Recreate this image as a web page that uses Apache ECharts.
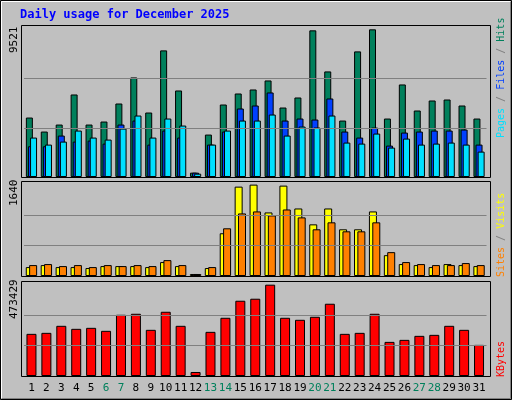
<!DOCTYPE html>
<html><head><meta charset="utf-8">
<script src="https://cdn.jsdelivr.net/npm/echarts@6/dist/echarts.min.js"></script>
<style>html,body{margin:0;padding:0;background:#C0C0C0}#c{width:512px;height:400px}</style>
</head><body><div id="c"></div>
<script>
const days = ['1','2','3','4','5','6','7','8','9','10','11','12','13','14','15','16','17','18','19','20','21','22','23','24','25','26','27','28','29','30','31'];
const weekend = ['6','7','13','14','20','21','27','28'];
const hits = [3834,2930,3382,5321,3382,3576,4739,6419,4157,8164,5579,280,2736,4674,5385,5644,6225,4480,5127,9456,6807,3640,8099,9521,3770,5967,4287,4933,4997,4610,3770];
const files = [1982,1982,2671,2283,2348,2154,3382,3640,2089,2994,2542,280,2089,2930,4416,4610,5450,3640,3770,3705,5062,2930,2542,3188,2025,2865,2930,2994,2994,3059,2089];
const pages = [2542,2089,2283,2994,2542,2412,3123,3963,2542,3770,3317,215,2089,2994,3640,3640,4028,2671,3252,3188,3963,2219,2154,2800,1896,2477,2089,2154,2219,2089,1637];
const visits = [160,196,160,160,143,178,178,178,160,250,178,36,143,767,1604,1640,1141,1622,1212,927,1212,838,838,1159,374,214,196,160,214,196,178];
const sites = [196,214,178,196,160,196,178,196,178,285,196,36,160,856,1123,1159,1087,1194,1052,838,963,802,802,963,428,250,214,196,196,232,196];
const kbytes = [218509,223712,260130,244522,249725,234117,317359,322562,239320,332966,260130,20810,228914,301751,390195,400600,473429,301751,291346,306953,374587,218509,223712,322562,176888,187294,208104,213307,260130,239320,161281];
const peakHits = 9521, peakVisits = 1640, peakK = 473429;

const mono = 'DejaVu Sans Mono';
const chart = echarts.init(document.getElementById('c'));
const panels = [[21,25,469,152],[21,181,469,95],[21,281,469,95]];
const grids = [{top:25,height:152},{top:181,height:95},{top:281,height:95}].map(g=>({left:24,width:462.5,top:g.top,height:g.height}));
function thirds(peak){return {silent:true,symbol:'none',label:{show:false},lineStyle:{color:'#808080',type:'solid',width:1},data:[{yAxis:Math.round(peak/3)},{yAxis:Math.round(peak*2/3)}]};}
const bs = {type:'bar',itemStyle:{borderColor:'#000',borderWidth:1},animation:false};
const graphics = [
  {type:'rect',shape:{x:0.5,y:0.5,width:511,height:399},style:{fill:'#C0C0C0',stroke:'#000'},z:-20},
  {type:'polyline',shape:{points:[[1.5,398],[1.5,1.5],[510,1.5]]},style:{stroke:'#fff',fill:null,lineWidth:1},z:-19},
  {type:'polyline',shape:{points:[[2,398.5],[510.5,398.5],[510.5,2]]},style:{stroke:'#808080',fill:null,lineWidth:1},z:-19},
  {type:'text',x:20,y:9,style:{text:'Daily usage for December 2025',fill:'#0000FF',font:'bold 12px '+mono},z:5}
];
panels.forEach(p=>graphics.push({type:'rect',shape:{x:p[0]+0.5,y:p[1]+0.5,width:p[2],height:p[3]},style:{fill:'#C0C0C0',stroke:'#000'},z:-15}));
const rf = '10px '+mono;
function upText(x,y,rich,text,font){graphics.push({type:'text',x:x,y:y,rotation:Math.PI/2,style:{text:text,rich:rich,font:font||('11px '+mono),align:'left',verticalAlign:'middle'},z:5});}
upText(14,53,{},String(peakHits));
upText(14,206,{},String(peakVisits));
upText(14,319,{},String(peakK));
upText(501,138,{p:{fill:'#00E0FF',font:rf},s:{fill:'#808080',font:rf},f:{fill:'#0040FF',font:rf},h:{fill:'#00805C',font:rf}},'{p|Pages}{s| / }{f|Files}{s| / }{h|Hits}',rf);
upText(501,277,{si:{fill:'#FF8000',font:rf},s:{fill:'#808080',font:rf},v:{fill:'#FFFF00',font:rf}},'{si|Sites}{s| / }{v|Visits}',rf);
upText(501,377,{k:{fill:'#FF0000',font:rf}},'{k|KBytes}',rf);

const xAxes = [0,1,2].map(i=>({type:'category',data:days,gridIndex:i,axisLine:{show:false},axisTick:{show:false},
  axisLabel:{show:i===2,margin:7,fontFamily:mono,fontSize:11,interval:0,color:v=>weekend.includes(v)?'#00805C':'#000'}}));
const yAxes = [[peakHits,455/442],[peakVisits,287/276],[peakK,284/273]].map((a,i)=>({type:'value',gridIndex:i,min:0,max:Math.round(a[0]*a[1]),axisLabel:{show:false},axisLine:{show:false},axisTick:{show:false},splitLine:{show:false}}));

chart.setOption({
  animation:false,
  graphic:graphics,
  grid:grids, xAxis:xAxes, yAxis:yAxes,
  series:[
    Object.assign({},bs,{name:'Hits',data:hits,xAxisIndex:0,yAxisIndex:0,barWidth:7,barGap:'-70%',itemStyle:{color:'#00805C',borderColor:'#000',borderWidth:1},markLine:thirds(peakHits),z:1}),
    Object.assign({},bs,{name:'Files',data:files,xAxisIndex:0,yAxisIndex:0,barWidth:7,barGap:'-70%',itemStyle:{color:'#0040FF',borderColor:'#000',borderWidth:1},z:2}),
    Object.assign({},bs,{name:'Pages',data:pages,xAxisIndex:0,yAxisIndex:0,barWidth:7,barGap:'-70%',itemStyle:{color:'#00E0FF',borderColor:'#000',borderWidth:1},z:3}),
    Object.assign({},bs,{name:'Visits',data:visits,xAxisIndex:1,yAxisIndex:1,barWidth:8,barGap:'-58%',itemStyle:{color:'#FFFF00',borderColor:'#000',borderWidth:1},markLine:thirds(peakVisits),z:1}),
    Object.assign({},bs,{name:'Sites',data:sites,xAxisIndex:1,yAxisIndex:1,barWidth:8,barGap:'-58%',itemStyle:{color:'#FF8000',borderColor:'#000',borderWidth:1},z:2}),
    {type:'line',name:'kgrid',data:[],xAxisIndex:2,yAxisIndex:2,symbol:'none',silent:true,markLine:thirds(peakK),z:1},
    Object.assign({},bs,{name:'KBytes',data:kbytes,xAxisIndex:2,yAxisIndex:2,barWidth:10,itemStyle:{color:'#FF0000',borderColor:'#000',borderWidth:1},z:2})
  ]
});
</script></body></html>
